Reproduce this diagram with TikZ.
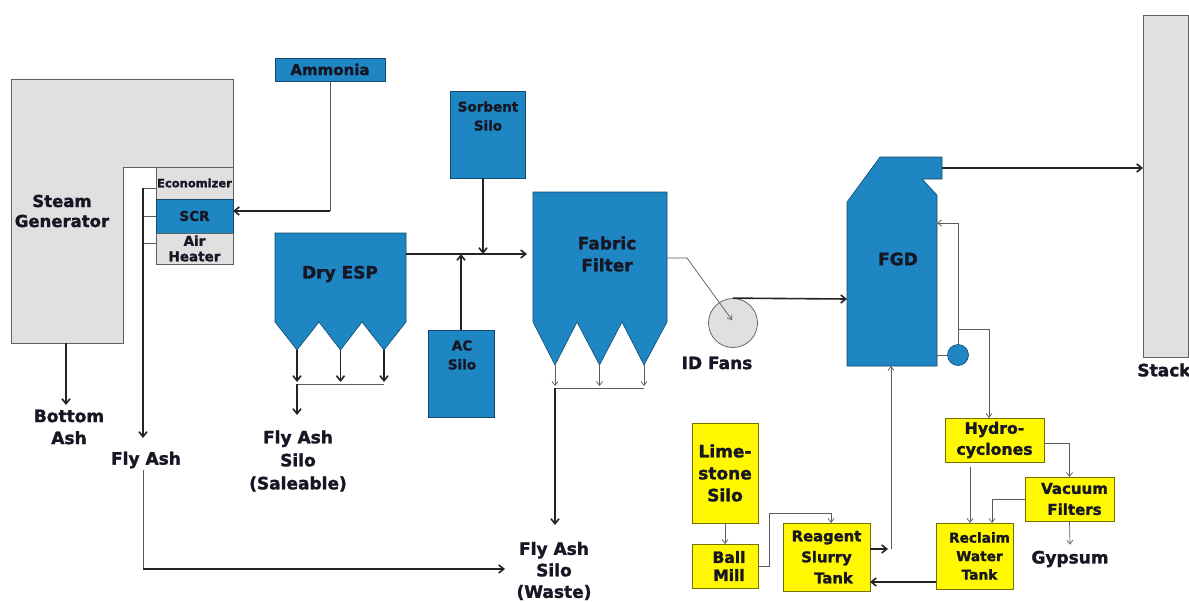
\documentclass[tikz,border=0pt]{standalone}
\usepackage{fontspec}
\setmainfont{DejaVu Sans}[BoldFeatures={FakeBold=1.6}]
\usetikzlibrary{arrows.meta,calc}
\definecolor{pblue}{RGB}{31,134,196}
\definecolor{pgray}{RGB}{224,224,224}
\definecolor{pyel}{RGB}{255,248,0}
\definecolor{txtc}{RGB}{22,22,36}
\definecolor{linec}{RGB}{35,35,40}
\definecolor{thinc}{RGB}{90,90,95}
\begin{document}
\begin{tikzpicture}[x=1pt,y=-1pt,line join=miter,
  >={Straight Barb[length=5pt,width=8pt]},
  blupath/.style={draw=pblue!55!black,line width=0.6pt,fill=pblue},
  yelpath/.style={draw=pyel!45!black,line width=0.6pt,fill=pyel},
  grypath/.style={draw=gray!75!black,line width=0.6pt,fill=pgray},
  blubox/.style={blupath,inner sep=0pt,outer sep=0pt,text=txtc,align=center},
  yelbox/.style={yelpath,inner sep=0pt,outer sep=0pt,text=txtc,align=center},
  grybox/.style={grypath,inner sep=0pt,outer sep=0pt,text=txtc,align=center},
  fL/.style={font=\bfseries\fontsize{17}{22}\selectfont},
  fM/.style={font=\bfseries\fontsize{15}{21}\selectfont},
  fS/.style={font=\bfseries\fontsize{13.5}{19}\selectfont},
  fX/.style={font=\bfseries\fontsize{11.5}{15}\selectfont},
  lbl/.style={fL,text=txtc,align=center,inner sep=0pt},
  thk/.style={draw=linec,line width=1.6pt},
  thn/.style={draw=thinc,line width=0.7pt,>={Straight Barb[length=4pt,width=6pt]}}]
\useasboundingbox (0,0) rectangle (1189,602);
\fill[white] (0,0) rectangle (1189,602);

% ---- Steam generator
\filldraw[grypath] (11,79) -- (233,79) -- (233,167) -- (123,167) -- (123,343) -- (11,343) -- cycle;
\node[lbl,font=\bfseries\fontsize{16.5}{20}\selectfont] (sg) at (62,211) {Steam\\Generator};
\node[grybox,fX,minimum width=77pt,minimum height=32pt] (econ) at (194.5,183) {Economizer};
\node[blubox,fS,minimum width=77pt,minimum height=34pt] (scr) at (194.5,216) {SCR};
\node[grybox,font=\bfseries\fontsize{13.5}{15.5}\selectfont,minimum width=77pt,minimum height=31pt] (airh) at (194.5,248.5) {Air\\Heater};
\coordinate (sgb) at (66,343);
\coordinate (fa0) at (143,188);

% ---- Ammonia
\node[blubox,font=\bfseries\fontsize{15}{18}\selectfont,minimum width=110pt,minimum height=23pt] (amm) at (330,69.5) {Ammonia};
\coordinate (ammc) at (330,211);

% ---- Dry ESP
\filldraw[blupath] (275,233) -- (406,233) -- (406,322) -- (384,350) -- (362,322) -- (340.5,350) -- (319,322) -- (297,350) -- (275,322) -- cycle;
\node[lbl] (esp) at (340,274) {Dry ESP};
\coordinate (e1) at (297,350);
\coordinate (e2) at (340.5,350);
\coordinate (e3) at (384,350);
\coordinate (espo) at (406,254);

% ---- Sorbent / AC silos
\node[blubox,minimum width=75pt,minimum height=87pt] (sorb) at (487.5,134.5) {};
\node[lbl,fS] (sorbl) at (488,116) {Sorbent\\Silo};
\node[blubox,minimum width=66pt,minimum height=87pt] (ac) at (461,373.5) {};
\node[lbl,fS] (acl) at (462,355) {AC\\Silo};

% ---- Fabric filter
\filldraw[blupath] (533,192) -- (667,192) -- (667,322) -- (644,365) -- (622,322) -- (599.5,365) -- (577,322) -- (555,365) -- (533,322) -- cycle;
\node[lbl] (ff) at (607,254) {Fabric\\Filter};
\coordinate (f1) at (555,365);
\coordinate (f2) at (599.5,365);
\coordinate (f3) at (644,365);
\coordinate (ffin) at (533,254);
\coordinate (ffo) at (667,258);

% ---- ID fans
\node[circle,draw=gray!70!black,fill=pgray,line width=0.7pt,minimum size=49pt,inner sep=0pt] (fan) at (733,323) {};
\node[lbl] (idf) at (717,363) {ID Fans};

% ---- FGD
\filldraw[blupath] (847,366) -- (847,202) -- (880,157) -- (942,157) -- (942,179) -- (922,179) -- (937,195) -- (937,366) -- cycle;
\node[lbl] (fgd) at (898,259) {FGD};
\coordinate (fgdin) at (847,299);
\coordinate (fgdo) at (942,168);
\coordinate (fgdr) at (937,223);
\coordinate (fgdp) at (937,355);
\coordinate (fgdb) at (891,366);
\node[circle,blupath,minimum size=21pt,inner sep=0pt] (pump) at (958,355) {};
\coordinate (pj) at (958,329);

% ---- Stack
\node[grybox,minimum width=45pt,minimum height=342pt] (stack) at (1165.5,186) {};
\node[lbl] (stackl) at (1164,370) {Stack};

% ---- Yellow boxes
\node[yelbox,fL,minimum width=66pt,minimum height=100pt] (lime) at (725,473) {Lime-\\stone\\Silo};
\node[yelbox,font=\bfseries\fontsize{15.5}{18}\selectfont,minimum width=66pt,minimum height=44pt] (ball) at (725,566) {\hspace*{8pt}Ball\\\hspace*{8pt}Mill};
\node[yelbox,font=\bfseries\fontsize{14.8}{21}\selectfont,minimum width=87pt,minimum height=68pt] (reag) at (826.5,557) {Reagent\\Slurry\\\hspace*{14pt}Tank};
\node[yelbox,font=\bfseries\fontsize{15.7}{21}\selectfont,minimum width=99pt,minimum height=44pt] (hydro) at (994.5,440) {Hydro-\\cyclones};
\node[yelbox,fM,minimum width=89pt,minimum height=44pt] (vac) at (1069.5,499) {\hspace*{10pt}Vacuum\\\hspace*{10pt}Filters};
\node[yelbox,font=\bfseries\fontsize{13.7}{18.5}\selectfont,minimum width=77pt,minimum height=66pt] (recl) at (974.5,556) {\hspace*{10pt}Reclaim\\\hspace*{10pt}Water\\\hspace*{10pt}Tank};
\node[lbl] (gyp) at (1070,559) {Gypsum};

% ---- Text labels for ash
\node[lbl] (botash) at (69,427) {Bottom\\Ash};
\node[lbl] (flyash) at (146,460) {Fly Ash};
\node[lbl,font=\bfseries\fontsize{17}{23}\selectfont] (sale) at (298,461) {Fly Ash\\Silo\\(Saleable)};
\node[lbl,font=\bfseries\fontsize{17}{21.5}\selectfont] (waste) at (554,571) {Fly Ash\\Silo\\(Waste)};
\coordinate (wastein) at (505,569);

% ================= connectors
% ammonia to SCR
\draw[thn] (amm.south) -- (ammc);
\draw[thk,->] (ammc) -- (ammc -| scr.east);
% steam generator bottom ash
\draw[thk,->] (sgb) -- (sgb |- 0,405);
% fly ash collector
\draw[thn] ([yshift=-5pt]econ.west) -- (fa0);
\draw[thn] (scr.west) -- (scr.west -| fa0);
\draw[thn] ([yshift=5.5pt]airh.west) -- ([yshift=5.5pt]airh.west -| fa0);
\draw[thk,->] (fa0) -- (fa0 |- 0,438);
\draw[thn] (fa0 |- 0,470) -- (fa0 |- wastein);
\draw[thk,->] (fa0 |- wastein) -- (wastein);
% ESP hoppers
\draw[thk,->] (e1) -- (e1 |- 0,382);
\draw[thk,->] (e2) -- (e2 |- 0,382);
\draw[thk,->] (e3) -- (e3 |- 0,382);
\draw[thn] (e1 |- 0,384) -- (e3 |- 0,384);
\draw[thk,->] (e1 |- 0,384) -- (e1 |- 0,415);
% ESP to fabric filter
\draw[thk,->,shorten >=6pt] (espo) -- (ffin);
\draw[thk,->] ([xshift=-4.5pt]sorb.south) -- ([xshift=-4.5pt]sorb.south |- espo);
\draw[thk,->] (ac.north) -- (ac.north |- espo);
% fabric filter hoppers
\draw[thn,->] (f1) -- (f1 |- 0,386);
\draw[thn,->] (f2) -- (f2 |- 0,386);
\draw[thn,->] (f3) -- (f3 |- 0,386);
\draw[thn] (f1 |- 0,388) -- (f3 |- 0,388);
\draw[thk,->] (f1 |- 0,388) -- (f1 |- 0,525);
% fabric filter to ID fan
\draw[thn,->] (ffo) -- ++(20,0) -- ([shift={(-1,-3)}]fan.center);
% ID fan to FGD
\draw[thk,->] (fan.north) -- (fgdin);
% FGD to stack
\draw[thk,->] (fgdo) -- (fgdo -| stack.west);
% pump loops
\draw[thn] (fgdp) -- (pump.west);
\draw[thn,->] (pump.north) |- (fgdr);
\draw[thn,->] (pj) -| ([xshift=-5.5pt]hydro.north);
% hydrocyclones
\draw[thn,->] ([yshift=-3pt]hydro.east) -| (vac.north);
\draw[thn,->] ([xshift=-24.5pt,yshift=-5pt]hydro.south) -- ([xshift=-4.5pt]recl.north);
\draw[thn,->] (vac.west) -| ([xshift=17.5pt]recl.north);
\draw[thn,->] (vac.south) -- ([yshift=6pt]gyp.north);
% reclaim to reagent
\draw[thk,->] ([yshift=-26pt]recl.west) coordinate (rr) -- (rr -| reag.east);
% reagent to FGD
\draw[thk,->] ([yshift=8pt]reag.east) coordinate (ro) -- ++(18,0);
\draw[thn,->] (ro -| fgdb) -- (fgdb);
% limestone / ball mill
\draw[thn,->] (lime.south) -- (ball.north);
\draw[thn,->] (ball.east) -- ++(11,0) |- ([xshift=4.5pt,yshift=10pt]reag.north) -- ([xshift=4.5pt]reag.north);
\end{tikzpicture}
\end{document}
